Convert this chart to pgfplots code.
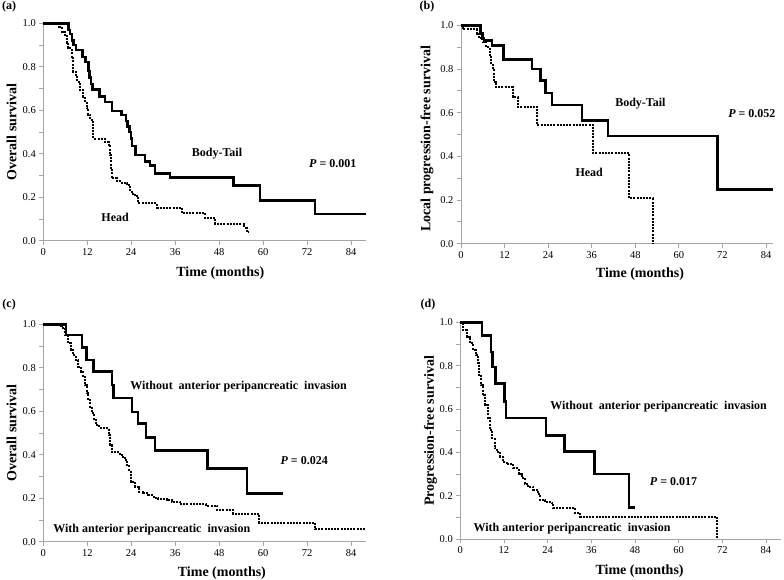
\documentclass[border=0pt]{standalone}
\usepackage{fontspec}
\setmainfont{Liberation Serif}
\usepackage{pgfplots}
\pgfplotsset{compat=1.18}

\pgfplotsset{
  km/.style={scale only axis, xmin=0, ymin=0, ymax=1, enlargelimits=false, clip=false,
    axis x line*=bottom, axis y line*=left,
    axis line style={gray!70, line width=0.8pt},
    xtick={0,12,24,36,48,60,72,84}, ytick={0,0.2,0.4,0.6,0.8,1},
    minor ytick={0.1,0.3,0.5,0.7,0.9},
    tick align=outside, major tick length=4pt, minor tick length=4pt,
    tick style={gray!70, line width=0.8pt},
    yticklabel style={/pgf/number format/fixed, /pgf/number format/fixed zerofill, /pgf/number format/precision=1},
    tick label style={font=\fontsize{10.5}{12}\selectfont, black},
    /pgf/number format/assume math mode=true,
    label style={font=\fontsize{14}{16}\selectfont\bfseries},
    xlabel={Time (months)}},
  surv/.style={black, line width=2.5pt, const plot},
  cens/.style={black, line width=2pt, const plot, dash pattern=on 2pt off 1.2pt}
}
\tikzset{ann/.style={font=\fontsize{12}{14}\selectfont\bfseries, anchor=center}}

\begin{document}
\begin{tikzpicture}
\path[use as bounding box] (0,0) rectangle (784pt,580pt);

% (a)
\begin{axis}[km, at={(43.3pt,339.3pt)}, anchor=south west, width=322.4pt, height=217.4pt, xmax=88,
  ylabel={Overall survival},
  ylabel style={at={(axis description cs:-0.098,0.5)}, anchor=center},
  xlabel style={at={(axis description cs:0.549,-0.147)}, anchor=center}]
\addplot[surv] coordinates {(0,1) (6.9,0.97) (7.3,0.95) (7.8,0.92) (8.3,0.90) (8.9,0.877) (10.7,0.845) (11.5,0.823) (12.3,0.78) (12.6,0.75) (13.0,0.72) (13.4,0.695) (15.3,0.663) (16.9,0.637) (18.7,0.597) (21.4,0.578) (22.6,0.551) (23.0,0.525) (23.5,0.50) (23.9,0.47) (24.2,0.435) (25.1,0.394) (27.8,0.364) (29.1,0.345) (30.5,0.31) (34.6,0.29) (51.9,0.253) (59.2,0.184) (74.2,0.123) (88,0.123)};
\addplot[cens] coordinates {(0,1) (4.4,0.985) (5.0,0.96) (5.9,0.946) (6.4,0.91) (6.8,0.885) (7.75,0.847) (8.2,0.778) (8.8,0.755) (9.3,0.732) (10.0,0.693) (10.9,0.663) (11.4,0.635) (11.85,0.609) (12.3,0.58) (12.8,0.555) (13.5,0.54) (13.7,0.47) (16.9,0.455) (17.8,0.44) (18.2,0.394) (18.5,0.33) (18.7,0.287) (20.0,0.275) (21.4,0.265) (22.8,0.256) (23.7,0.226) (24.5,0.21) (25.5,0.195) (25.9,0.172) (31.0,0.152) (37.8,0.126) (44.2,0.103) (47.0,0.077) (54.9,0.06) (55.5,0.042) (56.0,0.042)};
\node[ann] at (axis cs:47.4,0.399) {Body-Tail};
\node[ann] at (axis cs:79,0.353) {\textit{P} = 0.001};
\node[ann] at (axis cs:19.6,0.108) {Head};
\node[ann] at (axis description cs:-0.106,1.075) {(a)};
\end{axis}

% (b)
\begin{axis}[km, at={(461pt,336.3pt)}, anchor=south west, width=312.3pt, height=218.4pt, xmax=86,
  ylabel={Local progression-free survival},
  ylabel style={at={(axis description cs:-0.109,0.48)}, anchor=center},
  xlabel style={at={(axis description cs:0.573,-0.139)}, anchor=center}]
\addplot[surv] coordinates {(0,1) (5.3,0.963) (5.9,0.94) (6.4,0.93) (8.5,0.907) (11.75,0.844) (19.6,0.80) (21.9,0.748) (23.2,0.69) (25.1,0.634) (33.3,0.563) (40.5,0.493) (70.7,0.249) (86,0.249)};
\addplot[cens] coordinates {(0,1) (0.5,0.982) (4.3,0.96) (5.0,0.94) (6.1,0.925) (7.0,0.90) (7.9,0.864) (8.3,0.826) (8.8,0.796) (9.0,0.742) (9.7,0.716) (14.3,0.673) (15.6,0.627) (21.0,0.544) (36.4,0.414) (46.4,0.207) (52.8,0)};
\node[ann] at (axis cs:49.4,0.643) {Body-Tail};
\node[ann] at (axis cs:80.1,0.597) {\textit{P} = 0.052};
\node[ann] at (axis cs:35.3,0.325) {Head};
\node[ann] at (axis description cs:-0.109,1.085) {(b)};
\end{axis}

% (c)
\begin{axis}[km, at={(43.3pt,38.3pt)}, anchor=south west, width=322.4pt, height=217.4pt, xmax=88,
  ylabel={Overall survival},
  ylabel style={at={(axis description cs:-0.098,0.5)}, anchor=center},
  xlabel style={at={(axis description cs:0.554,-0.143)}, anchor=center}]
\addplot[surv] coordinates {(0,1) (6.2,0.951) (10.5,0.894) (11.85,0.836) (13.7,0.782) (18.7,0.72) (19.2,0.66) (24.15,0.597) (25.8,0.543) (28.1,0.479) (30.5,0.419) (44.8,0.336) (55.6,0.222) (65.3,0.222)};
\addplot[cens] coordinates {(0,1) (4.4,0.99) (5.0,0.982) (5.9,0.951) (6.8,0.913) (7.5,0.882) (8.2,0.859) (8.9,0.836) (9.6,0.805) (10.2,0.782) (10.75,0.759) (11.4,0.72) (11.85,0.683) (12.3,0.652) (12.75,0.621) (13.2,0.59) (13.85,0.559) (14.4,0.537) (15.3,0.525) (17.8,0.49) (18.2,0.445) (18.7,0.413) (20.5,0.405) (21.4,0.39) (22.3,0.375) (22.95,0.352) (23.5,0.322) (23.9,0.276) (25.1,0.253) (26.0,0.23) (27.3,0.222) (28.7,0.215) (30.1,0.202) (31.4,0.196) (33.7,0.191) (35.1,0.184) (37.3,0.172) (44.5,0.165) (47.5,0.146) (51.7,0.128) (59.0,0.088) (74.2,0.057) (88,0.057)};
\node[ann] at (axis cs:53.3,0.713) {Without~ anterior peripancreatic~ invasion};
\node[ann] at (axis cs:71.2,0.373) {\textit{P} = 0.024};
\node[ann] at (axis cs:29.6,0.054) {With anterior peripancreatic~ invasion};
\node[ann] at (axis description cs:-0.106,1.089) {(c)};
\end{axis}

% (d)
\begin{axis}[km, at={(460.3pt,40.7pt)}, anchor=south west, width=320.2pt, height=217pt, xmax=88,
  ylabel={Progression-free survival},
  ylabel style={at={(axis description cs:-0.093,0.5)}, anchor=center},
  xlabel style={at={(axis description cs:0.56,-0.145)}, anchor=center}]
\addplot[surv] coordinates {(0,1) (5.9,0.938) (8.4,0.864) (8.9,0.795) (9.7,0.719) (12.1,0.634) (12.5,0.56) (23.5,0.478) (28.6,0.404) (36.9,0.301) (46.3,0.147) (48.1,0.147)};
\addplot[cens] coordinates {(0,1) (0.8,0.964) (1.75,0.934) (2.7,0.903) (3.6,0.873) (4.2,0.849) (4.8,0.811) (5.1,0.757) (5.7,0.71) (6.1,0.664) (6.8,0.619) (7.5,0.557) (8.2,0.504) (8.8,0.465) (9.4,0.419) (10.0,0.404) (10.9,0.381) (11.8,0.358) (12.7,0.346) (14.6,0.327) (16.0,0.303) (16.9,0.281) (17.8,0.257) (18.7,0.242) (20.1,0.227) (21.3,0.207) (21.9,0.18) (23.3,0.172) (25.1,0.165) (25.6,0.143) (31.5,0.123) (33.0,0.105) (70.5,0)};
\node[ann] at (axis cs:54.5,0.611) {Without~ anterior peripancreatic~ invasion};
\node[ann] at (axis cs:58.6,0.265) {\textit{P} = 0.017};
\node[ann] at (axis cs:30.7,0.05) {With anterior peripancreatic~ invasion};
\node[ann] at (axis description cs:-0.101,1.08) {(d)};
\end{axis}
\end{tikzpicture}
\end{document}
